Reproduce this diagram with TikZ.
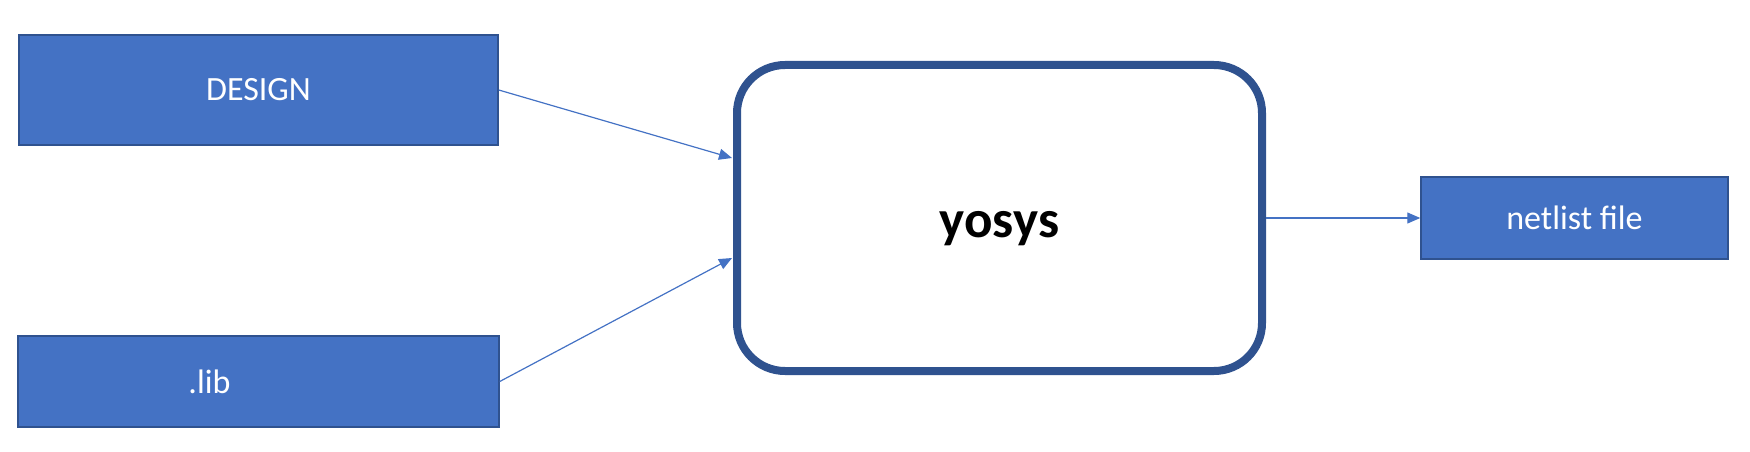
\documentclass[tikz,border=0pt]{standalone}
\usepackage{fontspec}
\setmainfont{Carlito}
\usetikzlibrary{arrows.meta,positioning}
\definecolor{boxblue}{HTML}{4472C4}
\definecolor{edgeblue}{HTML}{2F528F}

\begin{document}
\begin{tikzpicture}[x=1pt,y=-1pt,
  filebox/.style={draw=edgeblue,line width=1.5pt,fill=boxblue,text=white,
    inner sep=0pt,font=\fontsize{34}{40}\selectfont},
  toolbox/.style={draw=edgeblue,line width=8pt,fill=white,rounded corners=48pt,
    inner sep=0pt,text height=45pt,text depth=6pt,font=\fontsize{53}{60}\selectfont\bfseries},
  flow/.style={draw=boxblue,line width=1.2pt,-{Triangle[length=13pt,width=11pt]}}]
\useasboundingbox (0,0) rectangle (1750,452);

\node[filebox,minimum width=479pt,minimum height=110pt] (design) at (258.5,90) {DESIGN};
\node[filebox,minimum width=481pt,minimum height=91pt] (lib) at (258.5,381.5) {.lib\hspace*{98pt}};
\node[toolbox,minimum width=525pt,minimum height=306pt] (yosys) at (999.5,218) {yosys};
\node[filebox,minimum width=307pt,minimum height=82pt] (netlist) at (1574.5,218) {netlist file};

\coordinate (in1) at ([yshift=60pt,xshift=-1pt]yosys.west);
\coordinate (in2) at ([yshift=-40pt,xshift=-1pt]yosys.west);

\draw[flow] (design.east) -- (in1);
\draw[flow] (lib.east) -- (in2);
\draw[flow] (yosys.east) -- (netlist.west);
\end{tikzpicture}
\end{document}
